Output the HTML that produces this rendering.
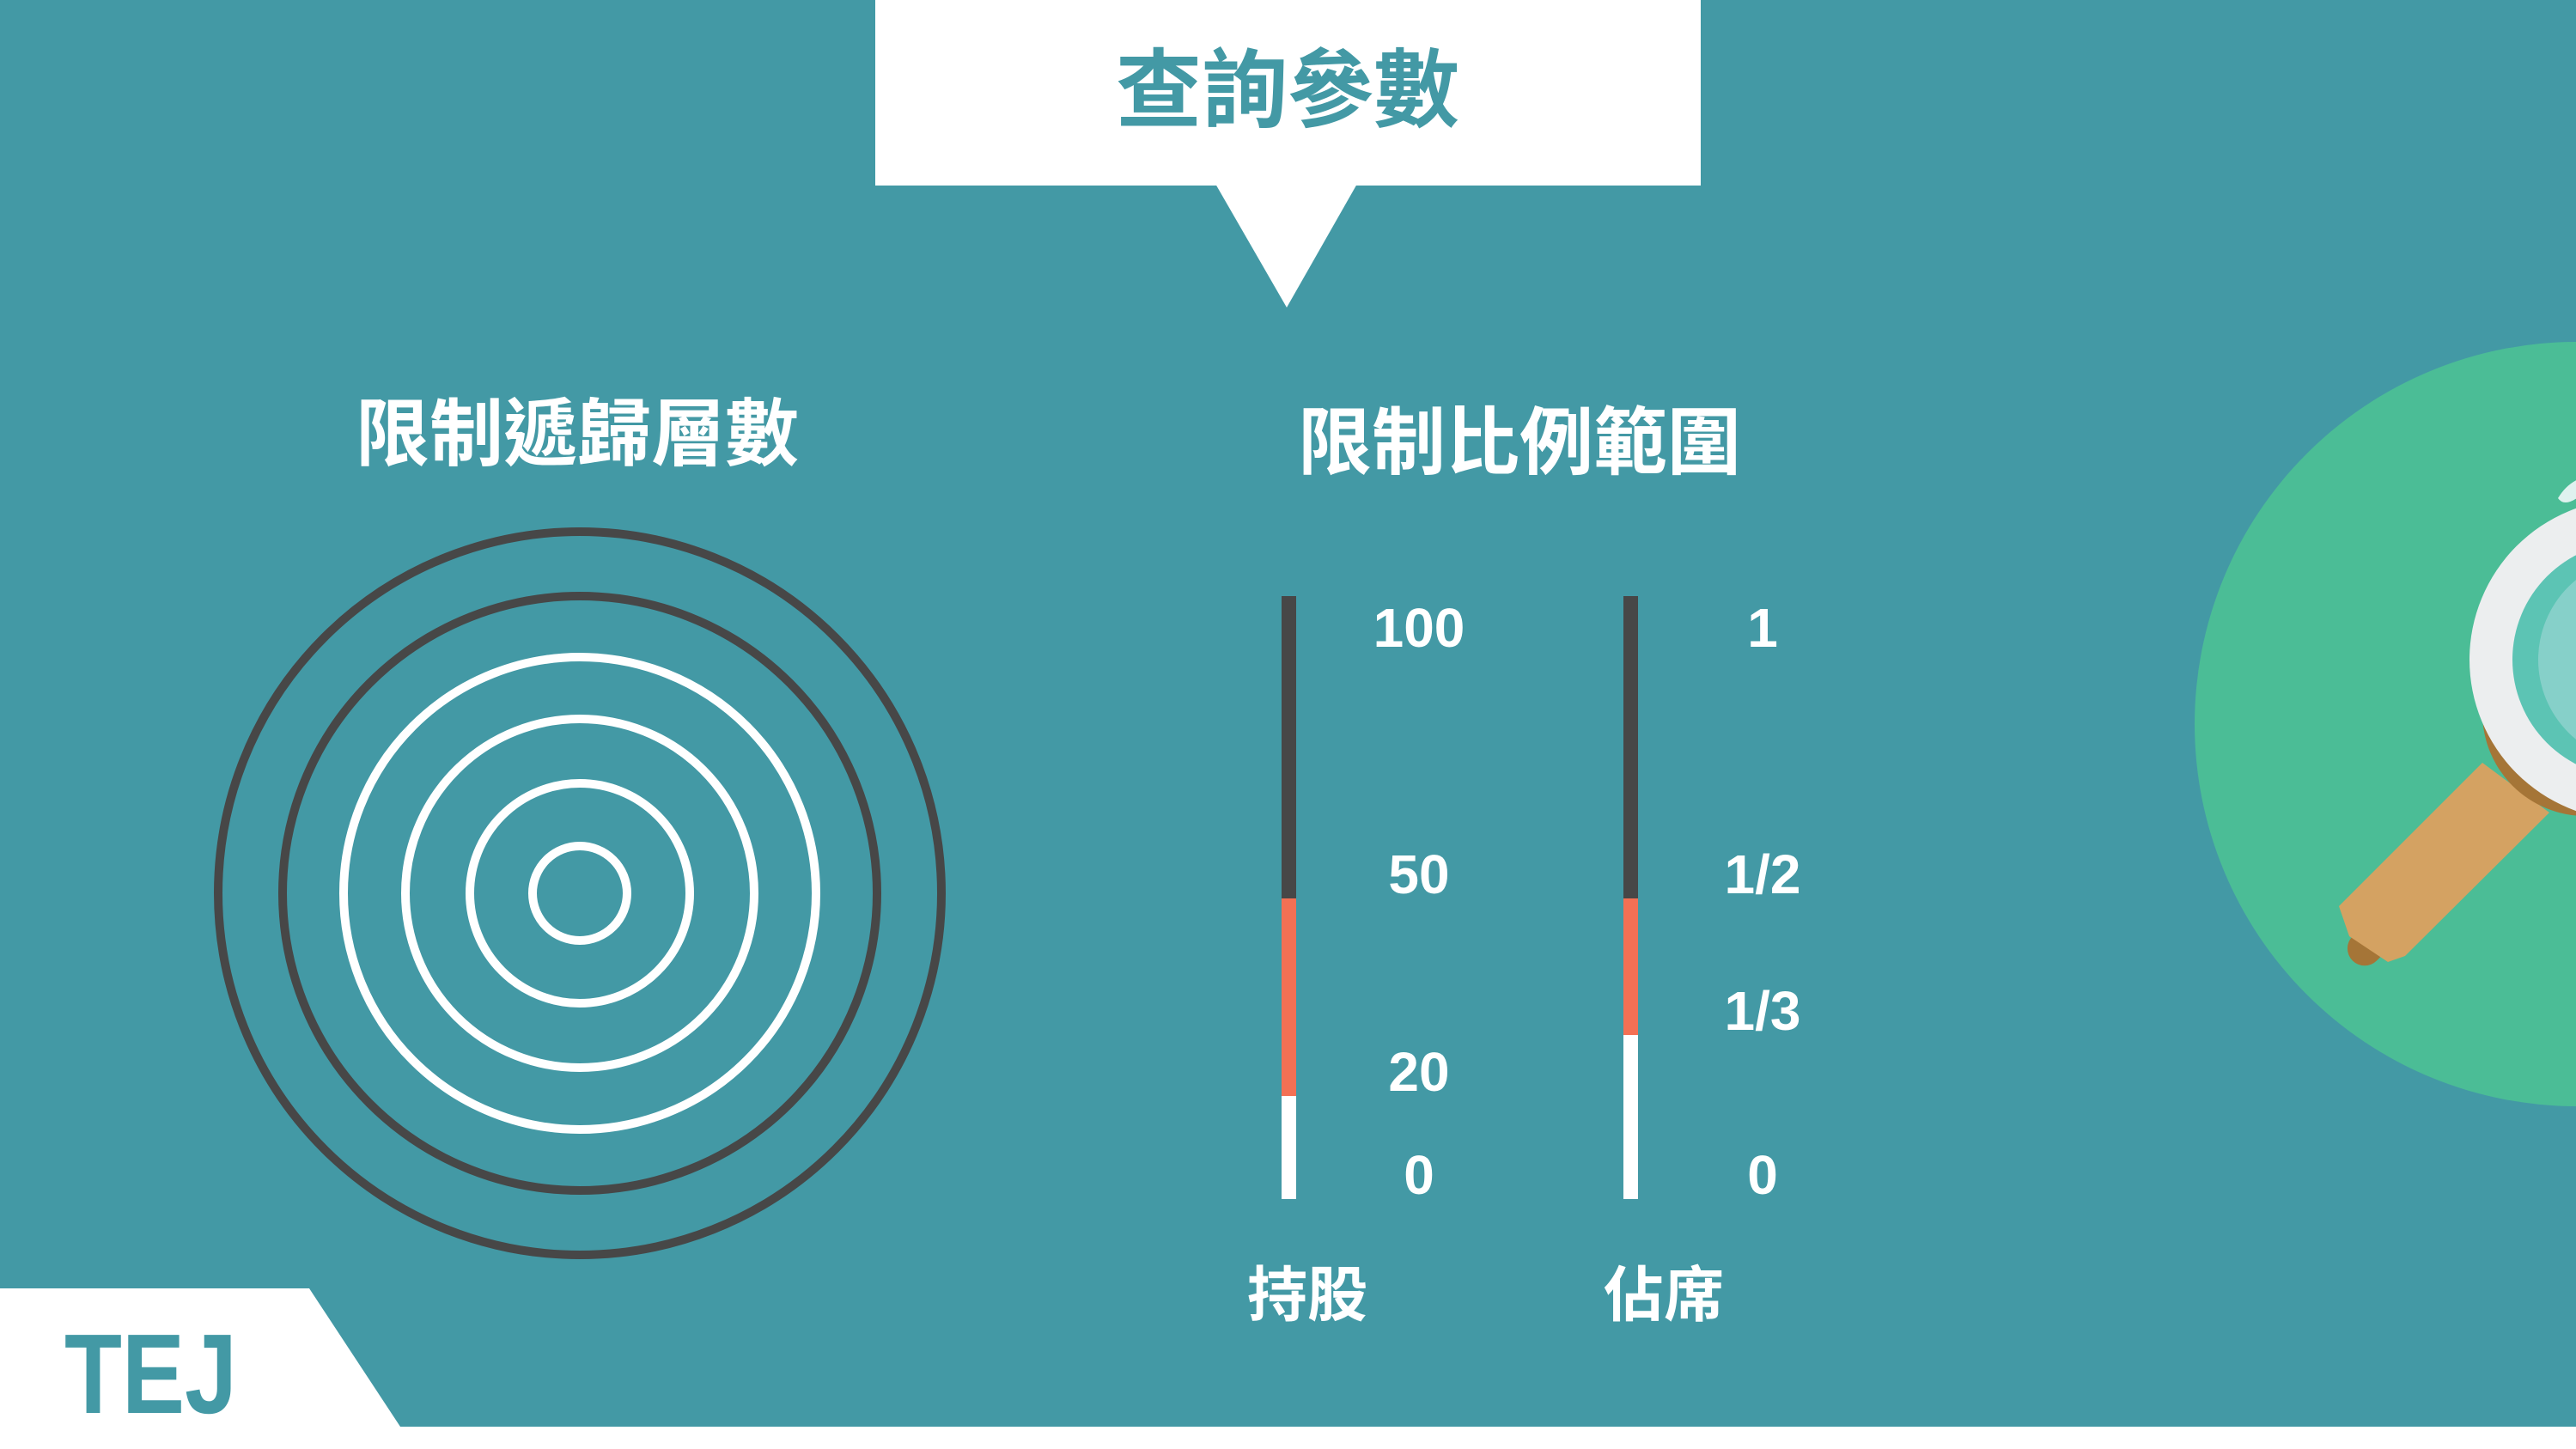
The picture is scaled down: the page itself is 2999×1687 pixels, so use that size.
<!DOCTYPE html>
<html><head><meta charset="utf-8"><style>
html,body{margin:0;padding:0;background:#fff;}
svg{display:block;}
text{font-family:"Liberation Sans","Noto Sans CJK TC",sans-serif;font-weight:bold;}
</style></head><body>
<svg id="chart" width="2999" height="1687" viewBox="0 0 2999 1687" xmlns="http://www.w3.org/2000/svg">
<rect x="0" y="0" width="2999" height="1661" fill="#4399a5"/>
<rect x="0" y="1661" width="2999" height="26" fill="#ffffff"/>
<polygon points="0,1500 360,1500 466,1661 0,1661" fill="#ffffff"/>
<text x="75" y="1645" font-size="132" fill="#4399a5" textLength="201" lengthAdjust="spacingAndGlyphs">TEJ</text>

<rect x="1019" y="0" width="961" height="216" fill="#ffffff"/>
<polygon points="1415,214 1580,214 1498,358" fill="#ffffff"/>
<text x="1499" y="140" font-size="100" fill="#4399a5" text-anchor="middle">查詢參數</text>

<text x="672" y="535" font-size="86" fill="#ffffff" text-anchor="middle">限制遞歸層數</text>
<text x="1769" y="545" font-size="86" fill="#ffffff" text-anchor="middle">限制比例範圍</text>

<g id="rings"></g>
<g id="bars"></g>

<text x="1522" y="1532" font-size="70" fill="#ffffff" text-anchor="middle">持股</text>
<text x="1937" y="1532" font-size="70" fill="#ffffff" text-anchor="middle">佔席</text>

<g>
<circle cx="3000" cy="843" r="445" fill="#4bbd96"/>
<g transform="rotate(-45 2760 1083)">
<rect x="2720" y="1073" width="90" height="40" rx="20" fill="#a57537"/>
</g>
<polygon points="2723,1055 2890,888 2968,946 2800,1113 2780,1120 2735,1090" fill="#d4a262"/>
<circle cx="3010" cy="830" r="120" fill="#a57537"/>
<circle cx="3062" cy="768" r="187" fill="#eceeef"/>
<circle cx="3062" cy="768" r="137" fill="#5cc4b4"/>
<circle cx="3075" cy="768" r="120" fill="#86d0c9"/>
<path d="M2978,580 Q2990,560 3010,555 L3000,580 Q2985,590 2978,580 Z" fill="#dff2ef"/>
</g>
</svg>
<script>
// ring radii (recursion levels), outer to inner
const ringRadii = [421, 346, 275, 203, 128, 55];
const ringKinds = ["dark", "dark", "light", "light", "light", "light"];
// bar chart data
const barNames = ["shareholding", "seats"];
const shareBreaks = [0, 20, 50, 100];
const shareLabels = ["0", "20", "50", "100"];
const seatBreaks = [0, 1/3, 1/2, 1];
const seatLabels = ["0", "1/3", "1/2", "1"];
const segColors = ["#ffffff", "#f47054", "#474747"];

const NS = "http://www.w3.org/2000/svg";
const ringsG = document.getElementById("rings");
ringRadii.forEach((r, i) => {
  const c = document.createElementNS(NS, "circle");
  c.setAttribute("cx", 675); c.setAttribute("cy", 1040); c.setAttribute("r", r);
  c.setAttribute("fill", "none");
  c.setAttribute("stroke", ringKinds[i] === "dark" ? "#474747" : "#ffffff");
  c.setAttribute("stroke-width", 10);
  
  
  ringsG.appendChild(c);
});

// piecewise axis: domain breaks mapped onto bar range
function makeScale(domain, rangeMarks) {
  return v => {
    for (let i = 1; i < domain.length; i++) {
      if (v <= domain[i] + 1e-9) {
        const t = (v - domain[i - 1]) / (domain[i] - domain[i - 1]);
        return rangeMarks[i - 1] + t * (rangeMarks[i] - rangeMarks[i - 1]);
      }
    }
    return rangeMarks[rangeMarks.length - 1];
  };
}
const barTop = 694, barBottom = 1396;
const shareScale = makeScale(shareBreaks, [barBottom, 1276, 1046, barTop]);
const seatScale = makeScale(seatBreaks, [barBottom, 1205, 1046, barTop]);

const barsG = document.getElementById("bars");
function drawBar(breaks, labels, scale, x, labelX, name) {
  for (let i = 0; i < breaks.length - 1; i++) {
    const y1 = scale(breaks[i + 1]), y0 = scale(breaks[i]);
    const r = document.createElementNS(NS, "rect");
    r.setAttribute("x", x); r.setAttribute("y", y1);
    r.setAttribute("width", 17); r.setAttribute("height", y0 - y1);
    r.setAttribute("fill", segColors[i]);
    
    
    barsG.appendChild(r);
  }
  breaks.forEach((v, i) => {
    const t = document.createElementNS(NS, "text");
    const yc = Math.max(scale(v) - 28, barTop + 37);
    t.setAttribute("x", labelX); t.setAttribute("y", yc + 22);
    t.setAttribute("font-size", 64); t.setAttribute("fill", "#ffffff");
    t.setAttribute("text-anchor", "middle");
    t.textContent = labels[i];
    
    
    barsG.appendChild(t);
  });
}
drawBar(shareBreaks, shareLabels, shareScale, 1492, 1652, barNames[0]);
drawBar(seatBreaks, seatLabels, seatScale, 1890, 2052, barNames[1]);
</script>
</body></html>
